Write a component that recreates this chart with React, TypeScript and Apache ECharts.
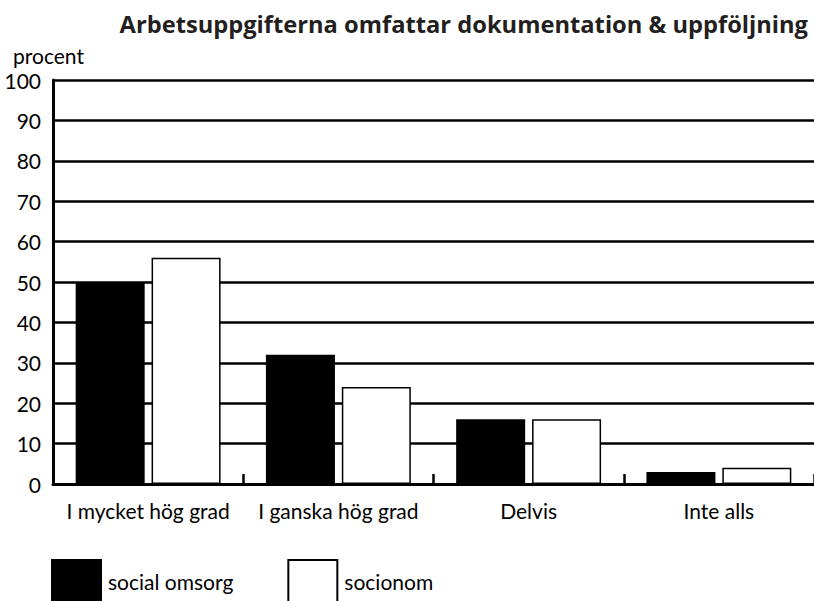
import React, { useEffect, useRef } from "react";
import * as echarts from "echarts";

const categories = ["I mycket hög grad", "I ganska hög grad", "Delvis", "Inte alls"];
const socialOmsorg = [50, 32, 16, 3];
const socionom = [56, 24, 16, 4];
const seriesNames = ["social omsorg", "socionom"];
const titleText = "Arbetsuppgifterna omfattar dokumentation & uppföljning";
const yAxisName = "procent";

const FONT = "Lato, 'Open Sans', sans-serif";

export default function App() {
  const ref = useRef<HTMLDivElement>(null);
  useEffect(() => {
    if (!ref.current) return;
    const chart = echarts.init(ref.current, null, { renderer: "svg" });
    chart.setOption({
      animation: false,
      backgroundColor: "#ffffff",
      title: {
        text: titleText,
        right: 1,
        top: 7,
        textStyle: { fontFamily: "'Open Sans', sans-serif", fontWeight: "bold", fontSize: 23.7, color: "#231f20" },
      },
      legend: {
        left: 46,
        top: 554,
        itemWidth: 49,
        itemHeight: 42,
        itemGap: 54,
        icon: "rect",
        textStyle: { fontFamily: FONT, fontSize: 21, color: "#000", padding: [0, 0, 0, 2] },
        data: seriesNames,
      },
      grid: { left: 53, right: 0, top: 80, bottom: 117, containLabel: false },
      xAxis: {
        type: "category",
        data: categories,
        boundaryGap: true,
        axisLine: { lineStyle: { color: "#000", width: 3 } },
        axisTick: { show: true, inside: true, interval: 0, length: 10, lineStyle: { color: "#000", width: 2.5 } },
        axisLabel: { interval: 0, fontFamily: FONT, fontSize: 21, color: "#000", margin: 16 },
      },
      yAxis: {
        type: "value",
        min: 0,
        max: 100,
        interval: 10,
        name: yAxisName,
        nameLocation: "end",
        nameGap: 14,
        nameTextStyle: { fontFamily: FONT, fontSize: 21, color: "#000", align: "left", padding: [0, 0, 0, -40] },
        axisLine: { show: true, lineStyle: { color: "#000", width: 3 } },
        axisTick: { show: false },
        axisLabel: { fontFamily: FONT, fontSize: 21, color: "#000", margin: 12, padding: [20, 0, 0, 0] },
        splitLine: { show: true, lineStyle: { color: "#000", width: 2.5 } },
      },
      series: [
        {
          name: seriesNames[0],
          type: "bar",
          data: socialOmsorg,
          barWidth: 69,
          barGap: "10%",
          itemStyle: { color: "#000", borderColor: "#000", borderWidth: 1.5 },
        },
        {
          name: seriesNames[1],
          type: "bar",
          data: socionom,
          barWidth: 69,
          barGap: "10%",
          itemStyle: { color: "#fff", borderColor: "#000", borderWidth: 1.5 },
        },
      ],
    });
    return () => chart.dispose();
  }, []);
  return <div ref={ref} style={{ width: 814, height: 601, position: "absolute", left: 0, top: 0 }} />;
}
